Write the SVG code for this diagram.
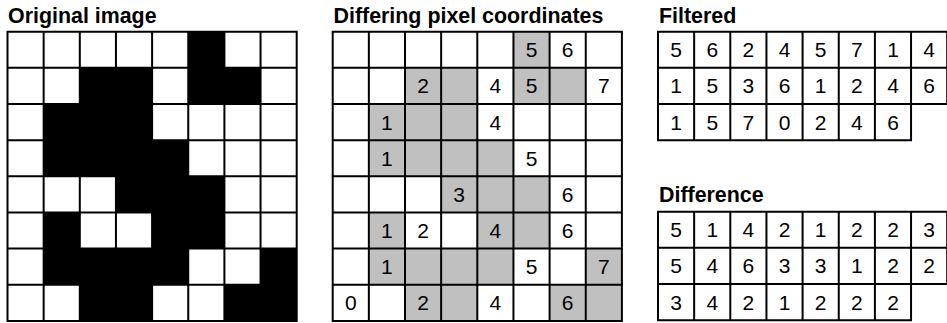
<svg xmlns="http://www.w3.org/2000/svg" width="947" height="323" viewBox="0 0 947 323">
<style>
.t{font-family:"Liberation Sans",Arial,sans-serif;font-weight:bold;font-size:21.4px;fill:#000}
.n{font-family:"Liberation Sans",Arial,sans-serif;font-size:21px;fill:#000;text-anchor:middle}
.k{fill:#000}
.g{fill:#c0c0c0}
.ln{fill:none;stroke:#000;stroke-width:2;stroke-linecap:square}
</style>
<rect width="947" height="323" fill="#fff"/>
<g id="original">
<text class="t" x="8" y="22.7">Original image</text>
<g transform="translate(7.5,31.7)">
<rect class="k" x="180.75" y="0" width="36.15" height="36.15"/>
<rect class="k" x="72.3" y="36.15" width="72.3" height="36.15"/>
<rect class="k" x="180.75" y="36.15" width="72.3" height="36.15"/>
<rect class="k" x="36.15" y="72.3" width="108.45" height="36.15"/>
<rect class="k" x="36.15" y="108.45" width="144.6" height="36.15"/>
<rect class="k" x="108.45" y="144.6" width="108.45" height="36.15"/>
<rect class="k" x="36.15" y="180.75" width="36.15" height="36.15"/>
<rect class="k" x="144.6" y="180.75" width="72.3" height="36.15"/>
<rect class="k" x="36.15" y="216.9" width="144.6" height="36.15"/>
<rect class="k" x="253.05" y="216.9" width="36.15" height="36.15"/>
<rect class="k" x="72.3" y="253.05" width="72.3" height="36.15"/>
<rect class="k" x="216.9" y="253.05" width="72.3" height="36.15"/>
<path class="ln" d="M0 0V289.2M36.15 0V289.2M72.3 0V289.2M108.45 0V289.2M144.6 0V289.2M180.75 0V289.2M216.9 0V289.2M253.05 0V289.2M289.2 0V289.2M0 0H289.2M0 36.15H289.2M0 72.3H289.2M0 108.45H289.2M0 144.6H289.2M0 180.75H289.2M0 216.9H289.2M0 253.05H289.2M0 289.2H289.2"/>
</g>
</g>
<g id="differing">
<text class="t" x="333.5" y="22.7">Differing pixel coordinates</text>
<g transform="translate(332.7,31.7)">
<rect class="g" x="180.75" y="0" width="36.15" height="36.15"/>
<rect class="g" x="72.3" y="36.15" width="72.3" height="36.15"/>
<rect class="g" x="180.75" y="36.15" width="72.3" height="36.15"/>
<rect class="g" x="36.15" y="72.3" width="108.45" height="36.15"/>
<rect class="g" x="36.15" y="108.45" width="144.6" height="36.15"/>
<rect class="g" x="108.45" y="144.6" width="108.45" height="36.15"/>
<rect class="g" x="36.15" y="180.75" width="36.15" height="36.15"/>
<rect class="g" x="144.6" y="180.75" width="72.3" height="36.15"/>
<rect class="g" x="36.15" y="216.9" width="144.6" height="36.15"/>
<rect class="g" x="253.05" y="216.9" width="36.15" height="36.15"/>
<rect class="g" x="72.3" y="253.05" width="72.3" height="36.15"/>
<rect class="g" x="216.9" y="253.05" width="72.3" height="36.15"/>
<path class="ln" d="M0 0V289.2M36.15 0V289.2M72.3 0V289.2M108.45 0V289.2M144.6 0V289.2M180.75 0V289.2M216.9 0V289.2M253.05 0V289.2M289.2 0V289.2M0 0H289.2M0 36.15H289.2M0 72.3H289.2M0 108.45H289.2M0 144.6H289.2M0 180.75H289.2M0 216.9H289.2M0 253.05H289.2M0 289.2H289.2"/>
<text class="n" x="198.83" y="25.6">5</text>
<text class="n" x="234.98" y="25.6">6</text>
<text class="n" x="90.38" y="61.7">2</text>
<text class="n" x="162.68" y="61.7">4</text>
<text class="n" x="198.83" y="61.7">5</text>
<text class="n" x="271.13" y="61.7">7</text>
<text class="n" x="54.23" y="97.9">1</text>
<text class="n" x="162.68" y="97.9">4</text>
<text class="n" x="54.23" y="134">1</text>
<text class="n" x="198.83" y="134">5</text>
<text class="n" x="126.53" y="170.2">3</text>
<text class="n" x="234.98" y="170.2">6</text>
<text class="n" x="54.23" y="206.3">1</text>
<text class="n" x="90.38" y="206.3">2</text>
<text class="n" x="162.68" y="206.3">4</text>
<text class="n" x="234.98" y="206.3">6</text>
<text class="n" x="54.23" y="242.5">1</text>
<text class="n" x="198.83" y="242.5">5</text>
<text class="n" x="271.13" y="242.5">7</text>
<text class="n" x="18.08" y="278.6">0</text>
<text class="n" x="90.38" y="278.6">2</text>
<text class="n" x="162.68" y="278.6">4</text>
<text class="n" x="234.98" y="278.6">6</text>
</g>
</g>
<g id="filtered">
<text class="t" x="659" y="22.7">Filtered</text>
<g transform="translate(658,31.7)">
<path class="ln" d="M0 0H289.2M0 36.15H289.2M0 72.3H289.2M0 108.45H253.05M0 0V108.45M36.15 0V108.45M72.3 0V108.45M108.45 0V108.45M144.6 0V108.45M180.75 0V108.45M216.9 0V108.45M253.05 0V108.45M289.2 0V72.3"/>
<text class="n" x="18.08" y="25.6">5</text><text class="n" x="54.23" y="25.6">6</text><text class="n" x="90.38" y="25.6">2</text><text class="n" x="126.53" y="25.6">4</text><text class="n" x="162.68" y="25.6">5</text><text class="n" x="198.83" y="25.6">7</text><text class="n" x="234.98" y="25.6">1</text><text class="n" x="271.13" y="25.6">4</text>
<text class="n" x="18.08" y="61.7">1</text><text class="n" x="54.23" y="61.7">5</text><text class="n" x="90.38" y="61.7">3</text><text class="n" x="126.53" y="61.7">6</text><text class="n" x="162.68" y="61.7">1</text><text class="n" x="198.83" y="61.7">2</text><text class="n" x="234.98" y="61.7">4</text><text class="n" x="271.13" y="61.7">6</text>
<text class="n" x="18.08" y="97.9">1</text><text class="n" x="54.23" y="97.9">5</text><text class="n" x="90.38" y="97.9">7</text><text class="n" x="126.53" y="97.9">0</text><text class="n" x="162.68" y="97.9">2</text><text class="n" x="198.83" y="97.9">4</text><text class="n" x="234.98" y="97.9">6</text>
</g>
</g>
<g id="difference">
<text class="t" x="659" y="201.7">Difference</text>
<g transform="translate(658,211.7)">
<path class="ln" d="M0 0H289.2M0 36.15H289.2M0 72.3H289.2M0 108.45H253.05M0 0V108.45M36.15 0V108.45M72.3 0V108.45M108.45 0V108.45M144.6 0V108.45M180.75 0V108.45M216.9 0V108.45M253.05 0V108.45M289.2 0V72.3"/>
<text class="n" x="18.08" y="25.6">5</text><text class="n" x="54.23" y="25.6">1</text><text class="n" x="90.38" y="25.6">4</text><text class="n" x="126.53" y="25.6">2</text><text class="n" x="162.68" y="25.6">1</text><text class="n" x="198.83" y="25.6">2</text><text class="n" x="234.98" y="25.6">2</text><text class="n" x="271.13" y="25.6">3</text>
<text class="n" x="18.08" y="61.7">5</text><text class="n" x="54.23" y="61.7">4</text><text class="n" x="90.38" y="61.7">6</text><text class="n" x="126.53" y="61.7">3</text><text class="n" x="162.68" y="61.7">3</text><text class="n" x="198.83" y="61.7">1</text><text class="n" x="234.98" y="61.7">2</text><text class="n" x="271.13" y="61.7">2</text>
<text class="n" x="18.08" y="97.9">3</text><text class="n" x="54.23" y="97.9">4</text><text class="n" x="90.38" y="97.9">2</text><text class="n" x="126.53" y="97.9">1</text><text class="n" x="162.68" y="97.9">2</text><text class="n" x="198.83" y="97.9">2</text><text class="n" x="234.98" y="97.9">2</text>
</g>
</g>
</svg>
